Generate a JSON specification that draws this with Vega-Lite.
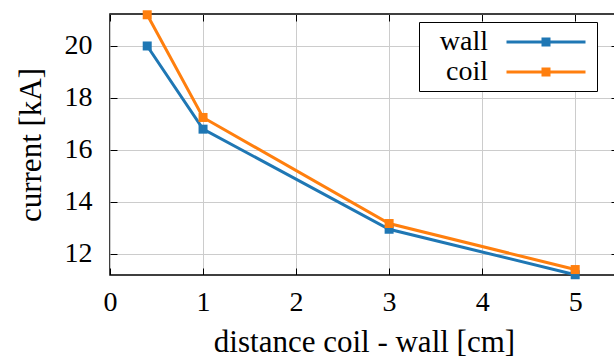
{
  "$schema": "https://vega.github.io/schema/vega-lite/v6.json",
  "autosize": "none",
  "width": 508,
  "height": 261,
  "padding": {"left": 110, "top": 14, "right": 0, "bottom": 86},
  "background": "white",
  "config": {
    "font": "Liberation Serif",
    "view": {"stroke": "black", "strokeWidth": 1.5},
    "axis": {
      "labelFont": "Liberation Serif",
      "titleFont": "Liberation Serif",
      "labelFontSize": 28,
      "titleFontSize": 31,
      "titleFontWeight": "normal",
      "labelColor": "black",
      "titleColor": "black",
      "gridColor": "#cccccc",
      "gridWidth": 1,
      "tickColor": "black",
      "tickWidth": 1,
      "tickSize": -7,
      "domain": false
    }
  },
  "data": {
    "values": [
      {"distance": 0.4, "current": 20.0, "series": "wall"},
      {"distance": 1, "current": 16.8, "series": "wall"},
      {"distance": 3, "current": 12.95, "series": "wall"},
      {"distance": 5, "current": 11.2, "series": "wall"},
      {"distance": 0.4, "current": 21.2, "series": "coil"},
      {"distance": 1, "current": 17.25, "series": "coil"},
      {"distance": 3, "current": 13.17, "series": "coil"},
      {"distance": 5, "current": 11.4, "series": "coil"}
    ]
  },
  "resolve": {"axis": {"x": "independent", "y": "independent"}},
  "layer": [
    {
      "mark": {"type": "rule", "opacity": 0},
      "encoding": {
        "x": {"field": "distance", "type": "quantitative", "scale": {"domain": [0, 5.46], "nice": false, "zero": false},
          "axis": {"orient": "top", "labels": false, "grid": false, "title": null, "values": [0, 1, 2, 3, 4, 5]}},
        "y": {"field": "current", "type": "quantitative", "scale": {"domain": [11.19, 21.23], "nice": false, "zero": false},
          "axis": {"orient": "right", "labels": false, "grid": false, "title": null, "values": [12, 14, 16, 18, 20]}}
      }
    },
    {
      "mark": {"type": "line", "strokeWidth": 3, "point": {"shape": "square", "size": 81, "filled": true}, "clip": false},
      "encoding": {
        "x": {"field": "distance", "type": "quantitative",
          "axis": {"orient": "bottom", "grid": true, "title": "distance coil - wall [cm]", "values": [0, 1, 2, 3, 4, 5], "labelPadding": 20, "titlePadding": 11, "labelFlush": false}},
        "y": {"field": "current", "type": "quantitative",
          "axis": {"orient": "left", "grid": true, "title": "current [kA]", "values": [12, 14, 16, 18, 20], "labelPadding": 25, "titlePadding": 17}},
        "color": {
          "field": "series", "type": "nominal",
          "scale": {"domain": ["wall", "coil"], "range": ["#1f77b4", "#ff7f0e"]},
          "legend": {
            "title": null,
            "orient": "none",
            "legendX": 309,
            "legendY": 8,
            "strokeColor": "black",
            "fillColor": "white",
            "padding": 5,
            "labelFont": "Liberation Serif",
            "labelFontSize": 28,
            "labelColor": "black",
            "labelAlign": "right",
            "rowPadding": 1,
            "symbolType": "M-1,0H1M-0.076,-0.076H0.076V0.076H-0.076Z",
            "symbolSize": 6241,
            "symbolStrokeWidth": 3,
            "encode": {
              "symbols": {"update": {"fill": {"scale": "color", "field": "value"}, "x": {"value": 122}, "y": {"value": 15}}},
              "labels": {"update": {"x": {"value": 64}, "y": {"value": 15}}}
            }
          }
        }
      }
    }
  ]
}
